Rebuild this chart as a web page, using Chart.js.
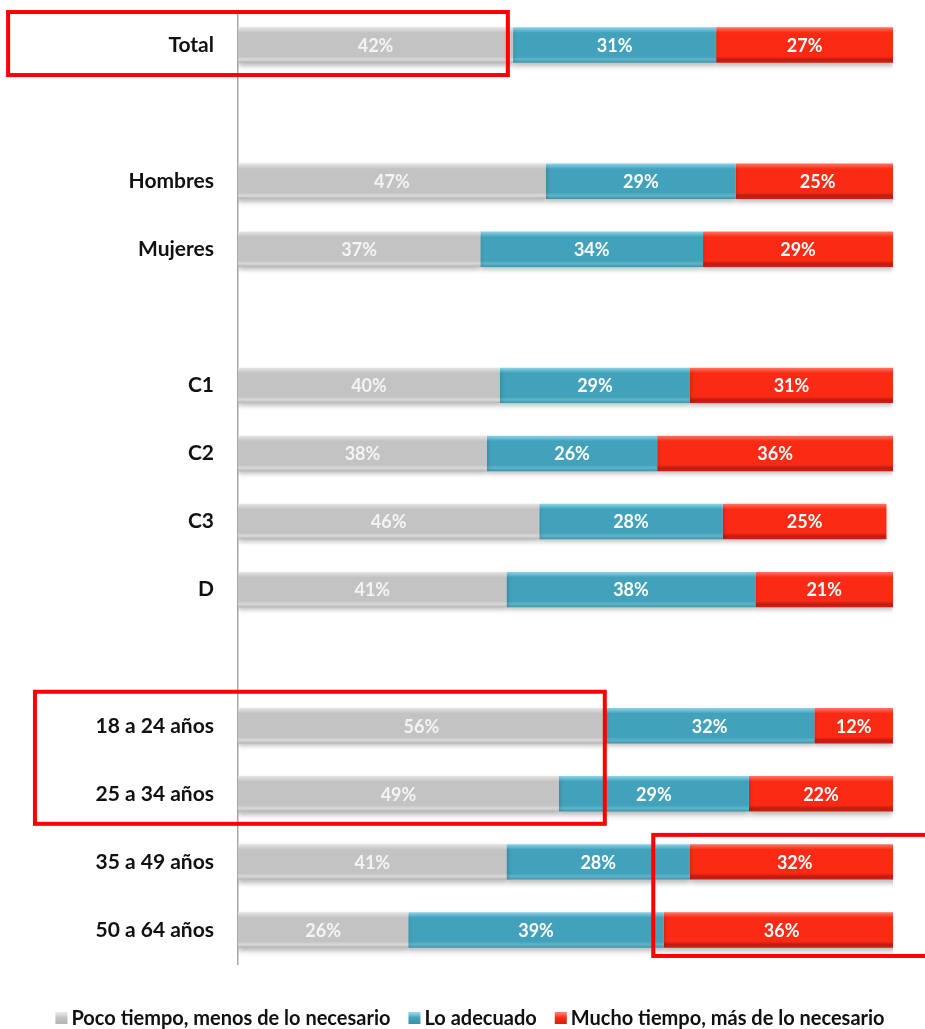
<!DOCTYPE html>
<html>
<head>
<meta charset="utf-8">
<script src="https://cdn.jsdelivr.net/npm/chart.js@4.4.1/dist/chart.umd.min.js"></script>
<style>
  html, body { margin: 0; padding: 0; background: #ffffff; }
  #wrap { width: 925px; height: 1029px; position: relative; }
</style>
</head>
<body>
<div id="wrap"><canvas id="c" width="925" height="1029"></canvas></div>
<script>
// ---- data ----
const categories = ["Total", "", "Hombres", "Mujeres", "", "C1", "C2", "C3", "D", "", "18 a 24 años", "25 a 34 años", "35 a 49 años", "50 a 64 años"];
const seriesNames = ["Poco tiempo, menos de lo necesario", "Lo adecuado", "Mucho tiempo, más de lo necesario"];
const pocoTiempo   = [42, null, 47, 37, null, 40, 38, 46, 41, null, 56, 49, 41, 26];
const loAdecuado   = [31, null, 29, 34, null, 29, 26, 28, 38, null, 32, 29, 28, 39];
const muchoTiempo  = [27, null, 25, 29, null, 31, 36, 25, 21, null, 12, 22, 32, 36];
const xMin = 0, xMax = 100;

// highlight boxes (row range, x range in % units)
const highlightRows = [[0, 0], [10, 11], [12, 13]];
const highlightX = [[-35.1, 41.2], [-31.0, 56.0], [63.4, 105.2]];
const highlightPad = [[33, 30], [34, 30], [27, 26]];

// ---- styles ----
const palettes = [
  { top: "#e6e6e6", body: "#c3c3c3", bottom: "#b2b2b2", edge: "#d9d9d9", text: "#f4f4f4" },
  { top: "#8fd6ea", body: "#42a2bb", bottom: "#3a91a8", edge: "#5fb4c8", text: "#ffffff" },
  { top: "#ff7a66", body: "#fa2a14", bottom: "#d1200f", edge: "#c01c10", text: "#ffffff" }
];
const FONT = "Lato, 'Open Sans', 'DejaVu Sans', sans-serif";

function barGradient(pal) {
  return function (ctx) {
    const chart = ctx.chart;
    const y = chart.scales && chart.scales.y;
    if (!y || ctx.dataIndex === undefined) return pal.body;
    const cy = y.getPixelForValue(ctx.dataIndex);
    if (!isFinite(cy)) return pal.body;
    const half = 18;
    const g = chart.ctx.createLinearGradient(0, cy - half, 0, cy + half);
    g.addColorStop(0, pal.top);
    g.addColorStop(0.16, pal.body);
    g.addColorStop(0.82, pal.body);
    g.addColorStop(0.9, pal.edge);
    g.addColorStop(1, pal.bottom);
    return g;
  };
}

const seriesData = [pocoTiempo, loAdecuado, muchoTiempo];
const datasets = seriesData.map((arr, i) => ({
  label: seriesNames[i],
  data: arr,
  backgroundColor: barGradient(palettes[i]),
  borderWidth: 0,
  barPercentage: 0.52,
  categoryPercentage: 1.0,
  clip: 0
}));

const shadowPlugin = {
  id: "shadow",
  beforeDatasetsDraw(chart) {
    const c = chart.ctx;
    c.save();
    c.shadowColor = "rgba(0,0,0,0.28)";
    c.shadowBlur = 5;
    c.shadowOffsetY = 3;
  },
  afterDatasetsDraw(chart) {
    chart.ctx.restore();
  }
};

const labelPlugin = {
  id: "valueLabels",
  afterDatasetsDraw(chart) {
    const c = chart.ctx;
    c.save();
    c.shadowColor = "rgba(0,0,0,0)";
    c.font = "bold 18px " + FONT;
    c.textAlign = "center";
    c.textBaseline = "middle";
    chart.data.datasets.forEach((ds, di) => {
      const meta = chart.getDatasetMeta(di);
      meta.data.forEach((el, i) => {
        const v = ds.data[i];
        if (v === null || v === undefined) return;
        const p = el.getCenterPoint();
        c.fillStyle = palettes[di].text;
        c.fillText(v + "%", p.x, p.y + 1);
      });
    });
    c.restore();
  }
};

const decorPlugin = {
  id: "decor",
  afterDraw(chart) {
    const c = chart.ctx;
    const xs = chart.scales.x, ys = chart.scales.y;
    // highlight boxes
    c.save();
    c.strokeStyle = "#ff0000";
    c.lineWidth = 4;
    highlightRows.forEach((r, k) => {
      const x0 = xs.getPixelForValue(highlightX[k][0]);
      const x1 = xs.getPixelForValue(highlightX[k][1]);
      const y0 = ys.getPixelForValue(r[0]) - highlightPad[k][0];
      const y1 = ys.getPixelForValue(r[1]) + highlightPad[k][1];
      c.strokeRect(x0, y0, x1 - x0, y1 - y0);
    });
    c.restore();

    // legend
    c.save();
    c.font = "bold 20px " + FONT;
    c.textBaseline = "middle";
    const box = 12, gapIcon = 4, gapItem = 18;
    const widths = seriesNames.map(t => c.measureText(t).width);
    let total = 0;
    widths.forEach((w, i) => { total += box + gapIcon + w + (i < widths.length - 1 ? gapItem : 0); });
    let x = 470 - total / 2;
    const cy = 1019;
    seriesNames.forEach((t, i) => {
      const pal = palettes[i];
      const g = c.createLinearGradient(0, cy - box / 2, 0, cy + box / 2);
      g.addColorStop(0, pal.top);
      g.addColorStop(0.4, pal.body);
      g.addColorStop(1, pal.bottom);
      c.fillStyle = g;
      c.fillRect(x, cy - box / 2 - 1, box, box);
      x += box + gapIcon;
      c.fillStyle = "#111111";
      c.textAlign = "left";
      c.fillText(t, x, cy);
      x += widths[i] + gapItem;
    });
    c.restore();
  }
};

new Chart(document.getElementById("c"), {
  type: "bar",
  data: { labels: categories, datasets: datasets },
  options: {
    indexAxis: "y",
    responsive: false,
    animation: false,
    devicePixelRatio: 1,
    layout: { padding: { top: 11, right: 32, bottom: 65, left: 0 } },
    plugins: {
      legend: { display: false },
      tooltip: { enabled: false }
    },
    scales: {
      x: {
        stacked: true,
        min: xMin,
        max: xMax,
        display: false
      },
      y: {
        stacked: true,
        afterFit(scale) {
          scale.width = 238;
          scale.paddingTop = 0;
          scale.paddingBottom = 0;
        },
        grid: { display: false, drawTicks: false },
        border: { display: true, color: "#a6a6a6", width: 1.5 },
        ticks: {
          color: "#111111",
          padding: 24,
          font: { family: FONT, size: 21, weight: "bold" }
        }
      }
    }
  },
  plugins: [shadowPlugin, labelPlugin, decorPlugin]
});
</script>
</body>
</html>
